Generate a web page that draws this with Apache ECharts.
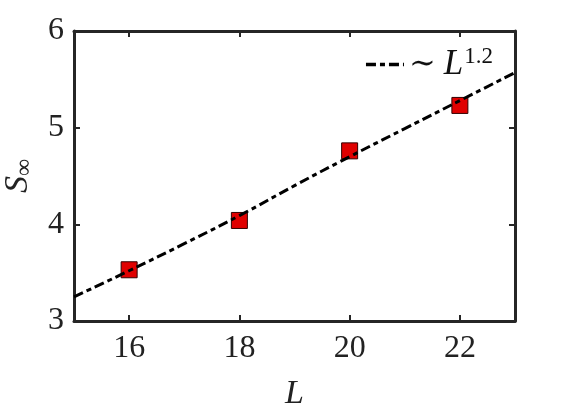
<!DOCTYPE html>
<html>
<head>
<meta charset="utf-8">
<script src="https://cdn.jsdelivr.net/npm/echarts@6/dist/echarts.min.js"></script>
<style>
  html, body { margin: 0; padding: 0; background: #fff; }
  #chart { width: 570px; height: 413px; }
</style>
</head>
<body>
<div id="chart"></div>
<script>
// measured points
const sizes = [16, 18, 20, 22];
const sInf = [3.53, 4.04, 4.76, 5.23];
// guide line ~ L^1.2
const fitL = [15, 16, 17, 18, 19, 20, 21, 22, 23];
const fitS = [3.25, 3.52, 3.80, 4.09, 4.40, 4.70, 4.99, 5.28, 5.57];
const xTicks = [16, 18, 20, 22];
const yTicks = [3, 4, 5, 6];

const serif = "'Liberation Serif', 'DejaVu Serif', serif";
const axisColor = "#262626";
const dash = [10, 4, 5, 4];

const chart = echarts.init(document.getElementById("chart"));

function frameAxis(ticks) {
  return {
    type: "value",
    axisLine: { show: true, lineStyle: { color: axisColor, width: 3 } },
    axisTick: { show: true, inside: true, length: 6, customValues: ticks, lineStyle: { color: axisColor, width: 2 } },
    splitLine: { show: false },
  };
}

chart.setOption({
  backgroundColor: "#fff",
  animation: false,
  grid: { left: 74, right: 55, top: 31, bottom: 92, outerBoundsMode: "none" },
  legend: {
    right: 72,
    top: 40,
    itemWidth: 38,
    itemHeight: 14,
    itemGap: 2,
    data: ["fit"],
    itemStyle: { opacity: 0 },
    lineStyle: { width: 3.5, type: dash, color: "#000" },
    formatter: () => "{a|∼ }{b|L}{c|1.2}",
    textStyle: {
      fontFamily: serif,
      fontSize: 34,
      color: "#111",
      rich: {
        a: { fontFamily: serif, fontSize: 32, color: "#111" },
        b: { fontFamily: serif, fontSize: 35, fontStyle: "italic", color: "#111" },
        c: { fontFamily: serif, fontSize: 23, color: "#111", verticalAlign: "top", padding: [0, 0, 16, 1] },
      },
    },
  },
  xAxis: [
    Object.assign(frameAxis(xTicks), {
      min: 15,
      max: 23,
      position: "bottom",
      axisLabel: { fontFamily: serif, fontSize: 32, color: "#222", margin: 12, customValues: xTicks },
      name: "L",
      nameLocation: "middle",
      nameGap: 56,
      nameTextStyle: { fontFamily: serif, fontSize: 34, fontStyle: "italic", color: "#222" },
    }),
    Object.assign(frameAxis(xTicks), {
      min: 15,
      max: 23,
      position: "top",
      axisLabel: { show: false },
    }),
  ],
  yAxis: [
    Object.assign(frameAxis(yTicks), {
      min: 3,
      max: 6,
      position: "left",
      axisLabel: { fontFamily: serif, fontSize: 32, color: "#222", margin: 10, customValues: yTicks },
      name: "{s|S}{i|∞}",
      nameLocation: "middle",
      nameGap: 36,
      nameRotate: 90,
      nameTextStyle: {
        rich: {
          s: { fontFamily: serif, fontSize: 34, fontStyle: "italic", color: "#222" },
          i: { fontFamily: serif, fontSize: 24, color: "#222", verticalAlign: "bottom", padding: [14, 0, 0, 0] },
        },
      },
    }),
    Object.assign(frameAxis(yTicks), {
      min: 3,
      max: 6,
      position: "right",
      axisLabel: { show: false },
    }),
  ],
  series: [
    {
      name: "fit",
      type: "line",
      data: fitL.map((l, i) => [l, fitS[i]]),
      showSymbol: false,
      symbol: "none",
      smooth: true,
      lineStyle: { color: "#000", width: 3, type: dash },
      itemStyle: { color: "#000" },
      z: 3,
    },
    {
      name: "data",
      type: "scatter",
      data: sizes.map((l, i) => [l, sInf[i]]),
      symbol: "rect",
      symbolSize: 16,
      itemStyle: { color: "#e00000", borderColor: "#300", borderWidth: 1, opacity: 1 },
      z: 2,
    },
  ],
});
</script>
</body>
</html>
